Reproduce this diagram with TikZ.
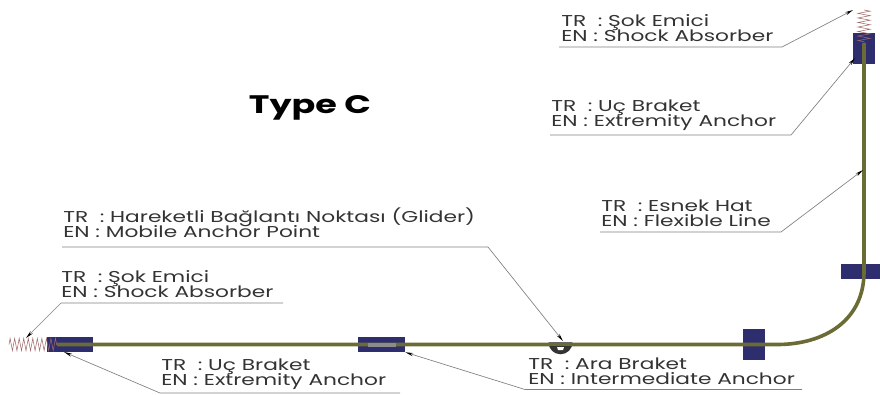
\documentclass[tikz,border=0pt]{standalone}
\usepackage{fontspec}
\usetikzlibrary{arrows.meta,decorations.pathmorphing,shapes.geometric}
\newfontfamily\labelfont[FakeStretch=1.38]{Poppins}
\def\px{0.75pt}
\lineskiplimit=-20pt
\normallineskiplimit=-20pt
\definecolor{anchorblue}{HTML}{2E2E6E}
\definecolor{lineolive}{HTML}{6B6B35}
\definecolor{springred}{HTML}{A06A6A}
\tikzset{
  callout/.style={anchor=south west,inner sep=0pt,align=left,font=\labelfont\fontsize{11.8pt}{11.3pt}\selectfont,text=black!80},
  leader/.style={draw=black!50,line width=0.5pt,-{Stealth[length=6pt,width=2.4pt,black]}},
  bracket/.style={fill=anchorblue,inner sep=0pt},
  spring/.style={draw=springred,line width=0.4pt,decorate,decoration={zigzag,segment length=3.4pt,amplitude=4.6pt}},
}
\begin{document}
\begin{tikzpicture}[x=\px,y=-\px]
       \useasboundingbox (0,0) rectangle (880,394);
       % anchors
       \node [bracket,minimum width=46*\px,minimum height=15*\px] (leftend) at (70,344.5) {};
       \node [bracket,minimum width=47*\px,minimum height=15*\px] (midanchor) at (381.5,344.5) {};
       \node [bracket,minimum width=22*\px,minimum height=31*\px] (crossanchor) at (754,344.5) {};
       \node [bracket,minimum width=39*\px,minimum height=15*\px] (sideanchor) at (860.5,271.5) {};
       \node [bracket,minimum width=22*\px,minimum height=31*\px] (topend) at (864,48.5) {};
       % shock absorbers
       \coordinate (leftspringa) at (9,344.5);
       \coordinate (leftspringb) at (57,344.5);
       \coordinate (topspringa) at (864,10);
       \coordinate (topspringb) at (864,43);
       \draw [spring] (leftspringa) -- (leftspringb);
       \draw [spring] (topspringa) -- (topspringb);
       % flexible line
       \draw [lineolive,line width=2.7pt] (leftspringb) -- (777,344.5) .. controls (825,344.5) and (864,320) .. (864,272) -- (topspringb);
       \fill [black!45] (368,343) rectangle (396,346.5);
       % glider
       \node [semicircle,shape border rotate=180,fill=black!80,minimum width=24*\px,minimum height=12*\px,inner sep=0pt,anchor=chord center] (glider) at (560.5,342) {};
       \fill [white] (557,347) -- (564,347) -- (563,350) -- (558,350) -- cycle;
       \draw [lineolive,line width=2.7pt] (545,344.5) -- (575,344.5);
       % texts
       \node [anchor=center,inner sep=0pt,font=\labelfont\bfseries\fontsize{19pt}{21pt}\selectfont] (title) at (310,108) {Type C};
       \node [callout] (glidertext) at (63,238) {TR\ \ : Hareketli Bağlantı Noktası (Glider)\\EN : Mobile Anchor Point};
       \node [callout] (leftshocktext) at (61,298) {TR\ \ : Şok Emici\\EN : Shock Absorber};
       \node [callout] (leftendtext) at (161,390) {TR\ \ : Uç Braket\\EN : Extremity Anchor};
       \node [callout] (midtext) at (528,385) {TR\ \ : Ara Braket\\EN : Intermediate Anchor};
       \node [callout] (flextext) at (601,227) {TR\ \ : Esnek Hat\\EN : Flexible Line};
       \node [callout] (topendtext) at (551,131) {TR\ \ : Uç Braket\\EN : Extremity Anchor};
       \node [callout] (topshocktext) at (561,42) {TR\ \ : Şok Emici\\EN : Shock Absorber};
       % leaders
       \coordinate (glideru) at (62,247);
       \coordinate (gliderb) at (488,247);
       \coordinate (glidertip) at (563,341);
       \draw [leader] (glideru) -- (gliderb) -- (glidertip);
       \coordinate (leftshocku) at (283,303);
       \coordinate (leftshockb) at (61,303);
       \coordinate (leftshocktip) at (26,338);
       \draw [leader] (leftshocku) -- (leftshockb) -- (leftshocktip);
       \coordinate (leftendu) at (400,393);
       \coordinate (leftendb) at (160,393);
       \coordinate (leftendtip) at (64,352);
       \draw [leader] (leftendu) -- (leftendb) -- (leftendtip);
       \coordinate (midu) at (802,389.5);
       \coordinate (midb) at (525,389.5);
       \draw [leader] (midu) -- (midb) -- (midanchor.south east);
       \coordinate (flexu) at (600,232);
       \coordinate (flexb) at (781,232);
       \coordinate (flextip) at (863,170);
       \draw [leader] (flexu) -- (flexb) -- (flextip);
       \coordinate (topendu) at (550,135);
       \coordinate (topendb) at (791,135);
       \coordinate (topendtip) at (855,58);
       \draw [leader] (topendu) -- (topendb) -- (topendtip);
       \coordinate (topshocku) at (559,47);
       \coordinate (topshockb) at (782,47);
       \coordinate (topshocktip) at (853,10);
       \draw [leader] (topshocku) -- (topshockb) -- (topshocktip);
    \end{tikzpicture}
\end{document}
